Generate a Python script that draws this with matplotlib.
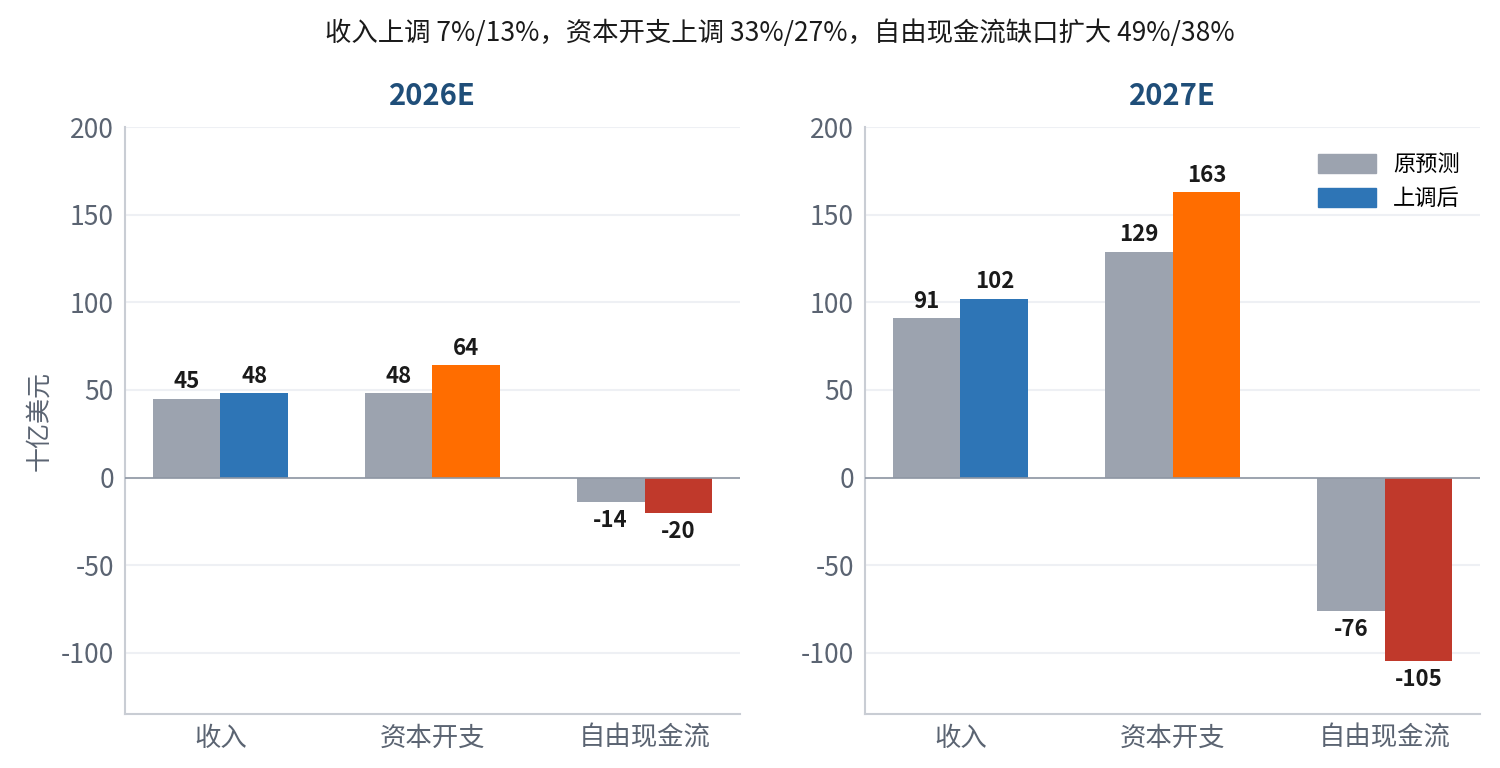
import matplotlib
matplotlib.use("Agg")
import matplotlib.pyplot as plt
from matplotlib.patches import Patch
import numpy as np

plt.rcParams['font.family'] = ['Noto Sans CJK SC', 'DejaVu Sans']

categories = ["收入", "资本开支", "自由现金流"]
years = ["2026E", "2027E"]
original = {"2026E": [45, 48, -14], "2027E": [91, 129, -76]}
revised = {"2026E": [48, 64, -20], "2027E": [102, 163, -105]}
yticks = [-100, -50, 0, 50, 100, 150, 200]

title = "收入上调 7%/13%，资本开支上调 33%/27%，自由现金流缺口扩大 49%/38%"

grey = "#9CA3AF"
revised_colors = ["#2E75B6", "#FF6D00", "#C0392B"]
tick_color = "#5B6472"
spine_color = "#C9CDD4"
grid_color = "#EEF0F4"

fig = plt.figure(figsize=(15, 7.68), dpi=100)
axes = [fig.add_axes([0.0833, 0.0703, 0.41, 0.764]),
        fig.add_axes([0.5767, 0.0703, 0.41, 0.764])]

x = np.arange(len(categories))
w = 0.32


def label_bars(ax, xs, vals):
    for xi, v in zip(xs, vals):
        ax.annotate(str(v), (xi, v), xytext=(0, 4 if v >= 0 else -5),
                    textcoords="offset points", ha="center",
                    va="bottom" if v >= 0 else "top",
                    fontsize=16, fontweight="bold", color="#1A1A1A")


for ax, yr in zip(axes, years):
    o = original[yr]
    r = revised[yr]
    ax.bar(x - w / 2, o, w, color=grey, zorder=3)
    ax.bar(x + w / 2, r, w, color=revised_colors, zorder=3)
    label_bars(ax, x - w / 2, o)
    label_bars(ax, x + w / 2, r)
    ax.axhline(0, color="#8E96A3", linewidth=1.2, zorder=4)
    ax.set_xlim(-0.45, 2.45)
    ax.set_ylim(-135, 200)
    ax.set_yticks(yticks)
    ax.set_yticklabels([str(t) for t in yticks])
    ax.set_xticks(x)
    ax.set_xticklabels(categories)
    ax.tick_params(axis="y", length=0, labelsize=19, colors=tick_color, pad=8)
    ax.tick_params(axis="x", length=0, labelsize=19, colors=tick_color, pad=8)
    ax.grid(axis="y", color=grid_color, linewidth=1.5, zorder=0)
    for s in ["top", "right"]:
        ax.spines[s].set_visible(False)
    for s in ["left", "bottom"]:
        ax.spines[s].set_color(spine_color)
        ax.spines[s].set_linewidth(1.5)
    ax.set_title(yr, fontsize=21, fontweight="bold", color="#1F4E79", pad=16)

axes[0].set_ylabel("十亿美元", fontsize=18, color=tick_color, labelpad=6)
handles = [Patch(color=grey, label="原预测"), Patch(color=revised_colors[0], label="上调后")]
axes[1].legend(handles=handles, loc="upper right", frameon=False, fontsize=16,
               handlelength=2.6, handleheight=0.9, labelspacing=0.5,
               bbox_to_anchor=(1.0, 0.99))

fig.text(0.52, 0.957, title, ha="center", va="center", fontsize=19, color="#1A1A1A")

fig.savefig("out.png", dpi=100, facecolor="white")
